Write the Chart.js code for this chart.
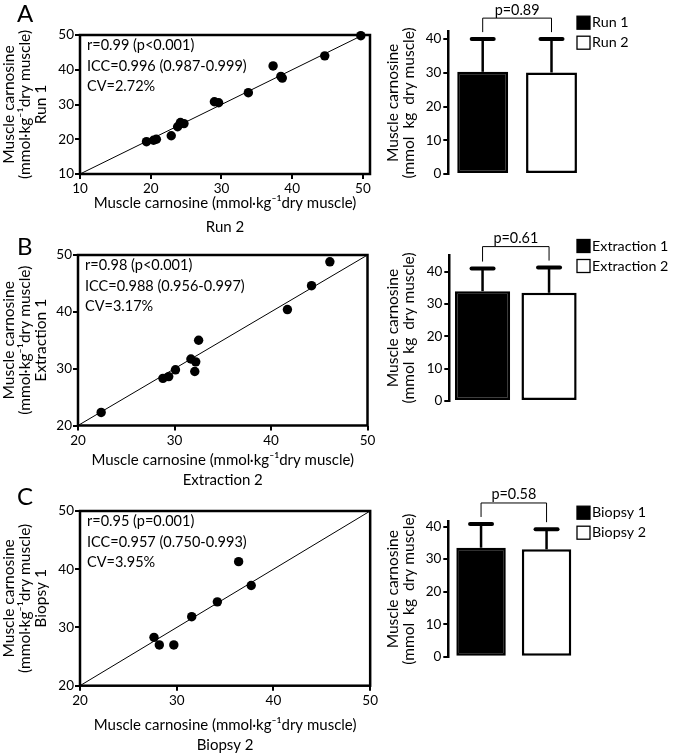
<!DOCTYPE html>
<html>
<head>
<meta charset="utf-8">
<script src="https://cdn.jsdelivr.net/npm/chart.js@4.4.1/dist/chart.umd.min.js"></script>
<style>
  body { margin: 0; background: #fff; width: 673px; height: 756px; position: relative; overflow: hidden; }
  canvas { position: absolute; }
  .panel { position: absolute; left: 17px; font: 24px/24px Lato; color: #000; }
</style>
</head>
<body>
<canvas id="scatterA" width="380" height="245" style="left:0;top:0"></canvas>
<canvas id="barA" width="293" height="235" style="left:380px;top:0"></canvas>
<canvas id="scatterB" width="380" height="255" style="left:0;top:235px"></canvas>
<canvas id="barB" width="293" height="270" style="left:380px;top:220px"></canvas>
<canvas id="scatterC" width="380" height="266" style="left:0;top:490px"></canvas>
<canvas id="barC" width="293" height="281" style="left:380px;top:475px"></canvas>
<div class="panel" style="top:0.5px">A</div>
<div class="panel" style="top:233.5px">B</div>
<div class="panel" style="top:483.5px">C</div>
<script>
// --- data ---
// A: Run 1 vs Run 2
const runX = [19.4, 20.4, 20.8, 22.9, 23.8, 24.2, 24.7, 29.0, 29.6, 33.8, 37.3, 38.4, 38.6, 44.6, 49.7];
const runY = [19.3, 19.7, 20.0, 21.0, 23.6, 24.8, 24.5, 30.8, 30.5, 33.4, 41.1, 38.1, 37.6, 44.0, 49.8];
const runLine = [10, 50];
const runTicks = [10, 20, 30, 40, 50];
const runStats = ['r=0.99 (p<0.001)', 'ICC=0.996 (0.987-0.999)', 'CV=2.72%'];
const runLabels = ['Run 1', 'Run 2'];
const runMean = [30.3, 30.1];
const runSD = [9.7, 9.9];
const runP = 'p=0.89';

// B: Extraction 1 vs Extraction 2
const extX = [22.4, 28.8, 29.4, 30.1, 31.7, 32.2, 32.1, 32.5, 41.7, 44.2, 46.1];
const extY = [22.3, 28.3, 28.6, 29.8, 31.7, 31.2, 29.5, 35.0, 40.4, 44.6, 48.8];
const extLine = [20, 50];
const extTicks = [20, 30, 40, 50];
const extStats = ['r=0.98 (p<0.001)', 'ICC=0.988 (0.956-0.997)', 'CV=3.17%'];
const extLabels = ['Extraction 1', 'Extraction 2'];
const extMean = [34.0, 33.5];
const extSD = [7.0, 7.8];
const extP = 'p=0.61';

// C: Biopsy 1 vs Biopsy 2
const bioX = [27.65, 28.2, 29.7, 31.55, 34.2, 36.4, 37.7];
const bioY = [28.3, 27.0, 27.0, 31.85, 34.4, 41.3, 37.2];
const bioLine = [20, 50];
const bioTicks = [20, 30, 40, 50];
const bioStats = ['r=0.95 (p=0.001)', 'ICC=0.957 (0.750-0.993)', 'CV=3.95%'];
const bioLabels = ['Biopsy 1', 'Biopsy 2'];
const bioMean = [33.5, 33.0];
const bioSD = [7.3, 6.2];
const bioP = 'p=0.58';

const barTicks = [0, 10, 20, 30, 40];

Chart.defaults.font.family = 'Lato';
Chart.defaults.color = '#000';
Chart.defaults.animation = false;

const TICK_SIZE = 13.5;

// 1. box + stats text for the scatter panels
const scatterDecor = {
    id: 'scatterDecor',
    beforeDatasetsDraw(chart) {
        const { ctx, chartArea: a } = chart;
        ctx.save();
        ctx.lineWidth = 2.5;
        ctx.strokeStyle = '#000';
        ctx.strokeRect(a.left, a.top, a.right - a.left, a.bottom - a.top);
        ctx.restore();
    },
    afterDraw(chart, args, opts) {
        const { ctx, chartArea: a } = chart;
        ctx.save();
        ctx.fillStyle = '#000';
        ctx.font = '14.5px Lato';
        ctx.textBaseline = 'middle';
        opts.stats.forEach((t, i) => ctx.fillText(t, a.left + 7, a.top + 10.5 + i * 20.5));
        ctx.restore();
    }
};

// 2. error bars, p-value bracket and legend for the bar panels
const barDecor = {
    id: 'barDecor',
    afterDatasetsDraw(chart, args, opts) {
        const { ctx, chartArea: a } = chart;
        const y = chart.scales.y;
        const bars = chart.getDatasetMeta(0).data;
        const mean = chart.data.datasets[0].data;
        const tops = [];
        ctx.save();
        ctx.strokeStyle = '#000';
        bars.forEach((bar, i) => {
            const top = y.getPixelForValue(mean[i] + opts.sd[i]);
            ctx.lineWidth = 2.5;
            ctx.lineCap = 'butt';
            ctx.beginPath();
            ctx.moveTo(bar.x, bar.y);
            ctx.lineTo(bar.x, top);
            ctx.stroke();
            ctx.lineWidth = 4;
            ctx.lineCap = 'round';
            ctx.beginPath();
            ctx.moveTo(bar.x - 11, top);
            ctx.lineTo(bar.x + 11, top);
            ctx.stroke();
            tops.push(top);
        });

        const by = Math.min(...tops) - 21;
        ctx.lineWidth = 1;
        ctx.lineCap = 'butt';
        ctx.beginPath();
        ctx.moveTo(bars[0].x, tops[0] - 7);
        ctx.lineTo(bars[0].x, by);
        ctx.lineTo(bars[1].x, by);
        ctx.lineTo(bars[1].x, tops[1] - 7);
        ctx.stroke();

        ctx.fillStyle = '#000';
        ctx.font = '14.4px Lato';
        ctx.textAlign = 'center';
        ctx.textBaseline = 'bottom';
        ctx.fillText(opts.p, (bars[0].x + bars[1].x) / 2, by - 1);

        // legend
        ctx.font = '14.3px Lato';
        ctx.textAlign = 'left';
        ctx.textBaseline = 'middle';
        chart.data.labels.forEach((t, i) => {
            const ly = a.top - 9 + i * 20;
            ctx.fillStyle = i === 0 ? '#000' : '#fff';
            ctx.fillRect(197, ly - 6.5, 13, 13);
            ctx.lineWidth = 1.3;
            ctx.strokeRect(197, ly - 6.5, 13, 13);
            ctx.fillStyle = '#000';
            ctx.fillText(t, 212, ly);
        });
        ctx.restore();
    }
};

const tickGrid = { drawOnChartArea: false, drawTicks: true, tickLength: 5, color: '#000', lineWidth: 2 };

function makeScatter(id, xs, ys, line, ticks, xMax, yMin, stats, who, lay) {
    const pts = xs.map((x, i) => ({ x: x, y: ys[i] }));
    return new Chart(document.getElementById(id), {
        data: {
            datasets: [
                { type: 'scatter', data: pts, backgroundColor: '#000', borderWidth: 0, pointRadius: 4.7, clip: false },
                { type: 'line', data: line.map(v => ({ x: v, y: v })), borderColor: '#000', borderWidth: 1, pointRadius: 0 }
            ]
        },
        options: {
            responsive: false,
            devicePixelRatio: 1,
            layout: { padding: { top: lay.top, right: lay.right, left: 0, bottom: 0 } },
            plugins: {
                legend: { display: false },
                tooltip: { enabled: false },
                scatterDecor: { stats: stats }
            },
            scales: {
                x: {
                    type: 'linear', min: ticks[0], max: xMax,
                    afterFit: s => { s.height = lay.xh; },
                    afterBuildTicks: s => { s.ticks = ticks.map(v => ({ value: v })); },
                    grid: tickGrid,
                    border: { display: false },
                    ticks: { font: { size: TICK_SIZE }, padding: 2, maxRotation: 0 },
                    title: {
                        display: true,
                        text: ['Muscle carnosine (mmol\u00b7kg\u207b\u00b9dry muscle)', who[1]],
                        font: { size: 15, lineHeight: lay.tlh },
                        padding: { top: 0, bottom: lay.tpb }
                    }
                },
                y: {
                    type: 'linear', min: yMin, max: 50,
                    afterFit: s => { s.width = lay.yw; },
                    afterBuildTicks: s => { s.ticks = ticks.map(v => ({ value: v })); },
                    grid: tickGrid,
                    border: { display: false },
                    ticks: { font: { size: TICK_SIZE }, padding: 1 },
                    title: {
                        display: true,
                        text: ['Muscle carnosine', '(mmol\u00b7kg\u207b\u00b9dry muscle)', who[0]],
                        font: { size: 15.5, lineHeight: '16px' },
                        padding: { top: 1, bottom: 0 }
                    }
                }
            }
        },
        plugins: [scatterDecor]
    });
}

function makeBar(id, labels, mean, sd, p, yMax, lay) {
    return new Chart(document.getElementById(id), {
        type: 'bar',
        data: {
            labels: labels,
            datasets: [{
                data: mean,
                backgroundColor: ['#000', '#fff'],
                borderColor: '#000',
                borderWidth: 2.5,
                borderSkipped: false,
                barPercentage: 1,
                categoryPercentage: lay.cat
            }]
        },
        options: {
            responsive: false,
            devicePixelRatio: 1,
            layout: { padding: { top: lay.top, right: lay.right, left: 0, bottom: lay.bottom } },
            plugins: {
                legend: { display: false },
                tooltip: { enabled: false },
                barDecor: { sd: sd, p: p }
            },
            scales: {
                x: { display: false },
                y: {
                    min: 0, max: yMax,
                    afterFit: s => { s.width = lay.yw; },
                    afterBuildTicks: s => { s.ticks = barTicks.map(v => ({ value: v })); },
                    grid: tickGrid,
                    border: { display: true, color: '#000', width: 2.5 },
                    ticks: { font: { size: TICK_SIZE }, padding: 2 },
                    title: {
                        display: true,
                        text: ['Muscle carnosine', '(mmol  kg  dry muscle)'],
                        font: { size: 15.5, lineHeight: '16px' },
                        padding: { top: 4.5, bottom: 0 }
                    }
                }
            }
        },
        plugins: [barDecor]
    });
}

makeScatter('scatterA', runX, runY, runLine, runTicks, 51, 10, runStats, ['Run 1', 'Run 2'],
    { top: 35, right: 10, yw: 80, xh: 71, tlh: '24px', tpb: 6 });
makeScatter('scatterB', extX, extY, extLine, extTicks, 50, 20, extStats, ['Extraction 1', 'Extraction 2'],
    { top: 20, right: 12.5, yw: 78, xh: 64.5, tlh: '20px', tpb: 0 });
makeScatter('scatterC', bioX, bioY, bioLine, bioTicks, 50, 20, bioStats, ['Biopsy 1', 'Biopsy 2'],
    { top: 21, right: 9.5, yw: 80, xh: 70.3, tlh: '20px', tpb: 1 });

makeBar('barA', runLabels, runMean, runSD, runP, 42.2, { top: 31.7, bottom: 61, right: 87.1, yw: 68.3, cat: 0.74 });
makeBar('barB', extLabels, extMean, extSD, extP, 45.2, { top: 35, bottom: 89, right: 90.7, yw: 69.3, cat: 0.83 });
makeBar('barC', bioLabels, bioMean, bioSD, bioP, 41.5, { top: 46.7, bottom: 99.3, right: 93.7, yw: 68.3, cat: 0.755 });
</script>
</body>
</html>
